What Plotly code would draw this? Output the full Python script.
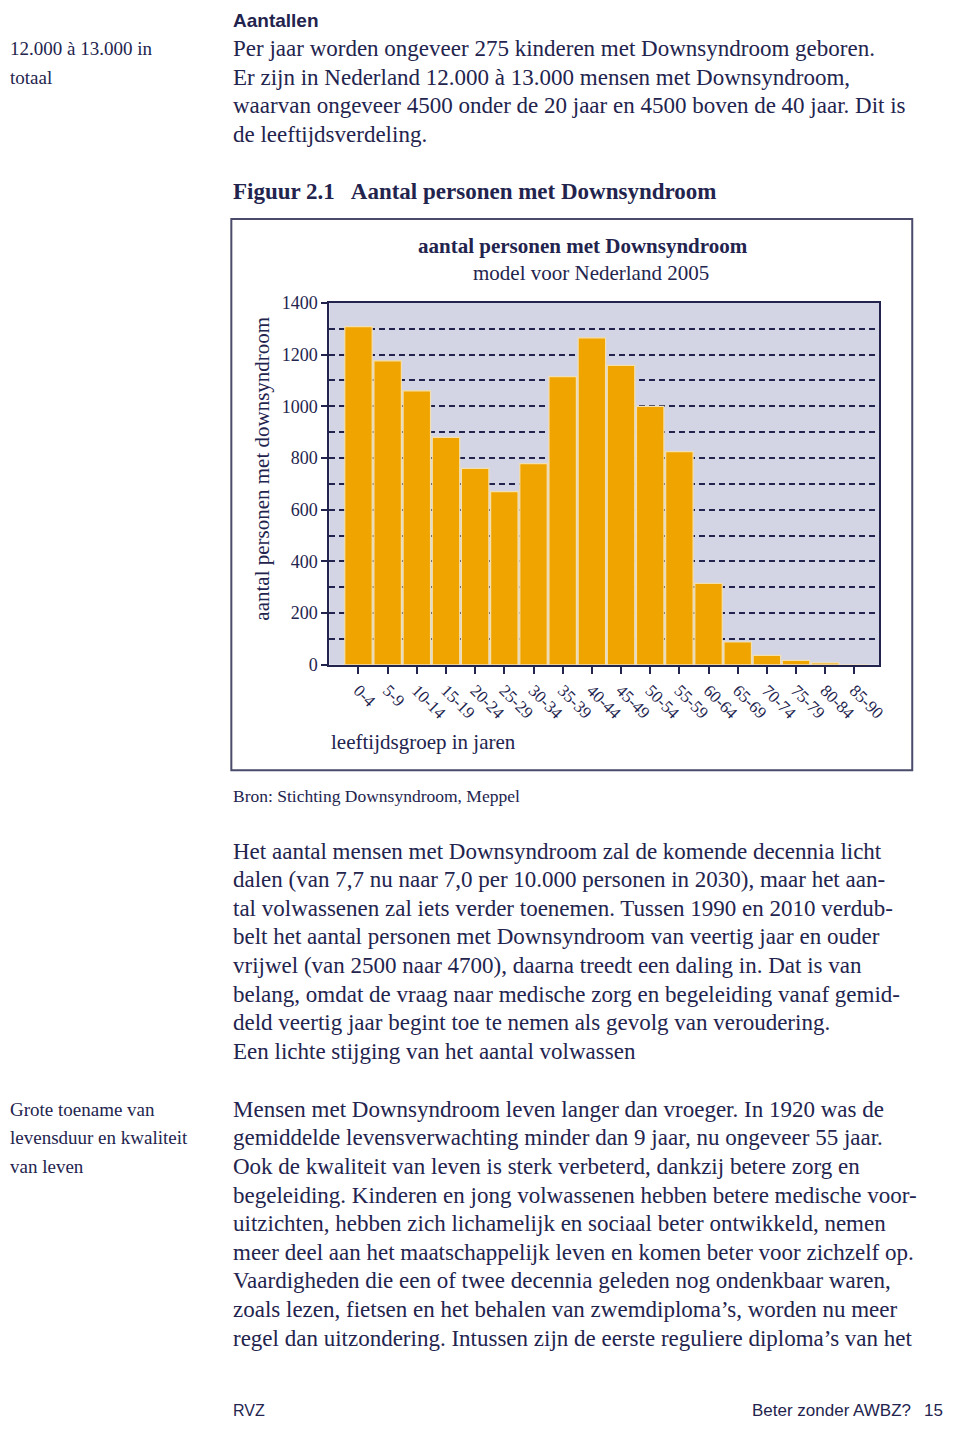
import plotly.graph_objects as go

# ---- data ----
age_groups = ["0-4", "5-9", "10-14", "15-19", "20-24", "25-29", "30-34", "35-39", "40-44",
              "45-49", "50-54", "55-59", "60-64", "65-69", "70-74", "75-79", "80-84", "85-90"]
persons = [1308, 1176, 1060, 880, 760, 670, 778, 1115, 1265,
           1158, 1000, 825, 315, 88, 36, 17, 7, 0]
y_tick_vals = [0, 200, 400, 600, 800, 1000, 1200, 1400]

# the page body has an 8px default margin: keep the figure inside the window
OFF = 8
W, H = 960 - 2 * OFF, 1435 - 2 * OFF
NAVY = "#23244e"
SERIF = "Liberation Serif"
SANS = "Liberation Sans"

def px(x):
    return (x - OFF) / W

def py(y):
    return 1 - (y - OFF) / H

fig = go.Figure()
fig.add_trace(go.Bar(
    x=list(range(len(age_groups))), y=persons,
    marker=dict(color="#f0a400", line=dict(color="#f4dfae", width=1.2)),
    hoverinfo="x+y",
))

fig.update_layout(
    width=W, height=H,
    margin=dict(l=0, r=0, t=0, b=0),
    paper_bgcolor="white",
    plot_bgcolor="#d3d5e4",
    showlegend=False,
    bargap=0.06,
    font=dict(family=SERIF, color=NAVY),
    xaxis=dict(
        domain=[px(331.7), px(886)],
        range=[-1.0, 17.86],
        tickmode="array",
        tickvals=list(range(len(age_groups))),
        ticktext=age_groups,
        tickangle=45,
        ticks="outside", ticklen=7, tickwidth=1.5, tickcolor=NAVY,
        tickfont=dict(family=SERIF, size=17, color=NAVY),
        showline=True, linecolor=NAVY, linewidth=2, mirror=True,
        showgrid=False, zeroline=False,
    ),
    yaxis=dict(
        domain=[py(664), py(297)],
        range=[0, 1400],
        tickmode="array",
        tickvals=y_tick_vals,
        ticks="outside", ticklen=6, tickwidth=1.5, tickcolor=NAVY,
        tickfont=dict(family=SERIF, size=18, color=NAVY),
        showline=True, linecolor=NAVY, linewidth=2, mirror=True,
        showgrid=True, gridcolor=NAVY, gridwidth=1.5, griddash="6px,4px",
        minor=dict(dtick=100, showgrid=True, gridcolor=NAVY, gridwidth=1.5, griddash="6px,4px"),
        zeroline=False,
    ),
)

# chart frame
fig.add_shape(type="rect", xref="paper", yref="paper",
              x0=px(233), x1=px(919), y0=py(771), y1=py(212),
              line=dict(color="#4a4b6a", width=2), fillcolor="rgba(0,0,0,0)", layer="below")

def txt(x, y, s, size=23, family=SERIF, bold=False, anchor="left", color=NAVY, angle=0):
    if bold:
        s = "<b>" + s + "</b>"
    fig.add_annotation(x=px(x), y=py(y), xref="paper", yref="paper", text=s,
                       showarrow=False, xanchor=anchor, yanchor="middle",
                       textangle=angle,
                       font=dict(family=family, size=size, color=color))

# header
txt(233, 11, "Aantallen", size=19, family=SANS, bold=True)
txt(8, 39, "12.000 à 13.000 in", size=19)
txt(8, 68, "totaal", size=19)
para1 = ["Per jaar worden ongeveer 275 kinderen met Downsyndroom geboren.",
         "Er zijn in Nederland 12.000 à 13.000 mensen met Downsyndroom,",
         "waarvan ongeveer 4500 onder de 20 jaar en 4500 boven de 40 jaar. Dit is",
         "de leeftijdsverdeling."]
for i, line in enumerate(para1):
    txt(233, 39 + 29 * i, line)

txt(233, 184, "Figuur 2.1   Aantal personen met Downsyndroom", size=23, bold=True)

# chart texts
txt(587, 239, "aantal personen met Downsyndroom", size=21, bold=True, anchor="center")
txt(595, 267, "model voor Nederland 2005", size=21, anchor="center")
txt(263, 465, "aantal personen met downsyndroom", size=21, anchor="center", angle=-90)
txt(331, 742, "leeftijdsgroep in jaren", size=21)
txt(233, 797, "Bron: Stichting Downsyndroom, Meppel", size=17.5)

para2 = ["Het aantal mensen met Downsyndroom zal de komende decennia licht",
         "dalen (van 7,7 nu naar 7,0 per 10.000 personen in 2030), maar het aan-",
         "tal volwassenen zal iets verder toenemen. Tussen 1990 en 2010 verdub-",
         "belt het aantal personen met Downsyndroom van veertig jaar en ouder",
         "vrijwel (van 2500 naar 4700), daarna treedt een daling in. Dat is van",
         "belang, omdat de vraag naar medische zorg en begeleiding vanaf gemid-",
         "deld veertig jaar begint toe te nemen als gevolg van veroudering.",
         "Een lichte stijging van het aantal volwassen"]
for i, line in enumerate(para2):
    txt(233, 853 + 29 * i, line)

margin3 = ["Grote toename van", "levensduur en kwaliteit", "van leven"]
for i, line in enumerate(margin3):
    txt(8, 1115 + 29 * i, line, size=19)

para3 = ["Mensen met Downsyndroom leven langer dan vroeger. In 1920 was de",
         "gemiddelde levensverwachting minder dan 9 jaar, nu ongeveer 55 jaar.",
         "Ook de kwaliteit van leven is sterk verbeterd, dankzij betere zorg en",
         "begeleiding. Kinderen en jong volwassenen hebben betere medische voor-",
         "uitzichten, hebben zich lichamelijk en sociaal beter ontwikkeld, nemen",
         "meer deel aan het maatschappelijk leven en komen beter voor zichzelf op.",
         "Vaardigheden die een of twee decennia geleden nog ondenkbaar waren,",
         "zoals lezen, fietsen en het behalen van zwemdiploma’s, worden nu meer",
         "regel dan uitzondering. Intussen zijn de eerste reguliere diploma’s van het"]
for i, line in enumerate(para3):
    txt(233, 1115 + 29 * i, line)

# footer
txt(233, 1420, "RVZ", size=16, family=SANS)
txt(920, 1420, "Beter zonder AWBZ?", size=17, family=SANS, anchor="right")
txt(952, 1420, "15", size=17, family=SANS, anchor="right")

fig.write_html("out.html")
